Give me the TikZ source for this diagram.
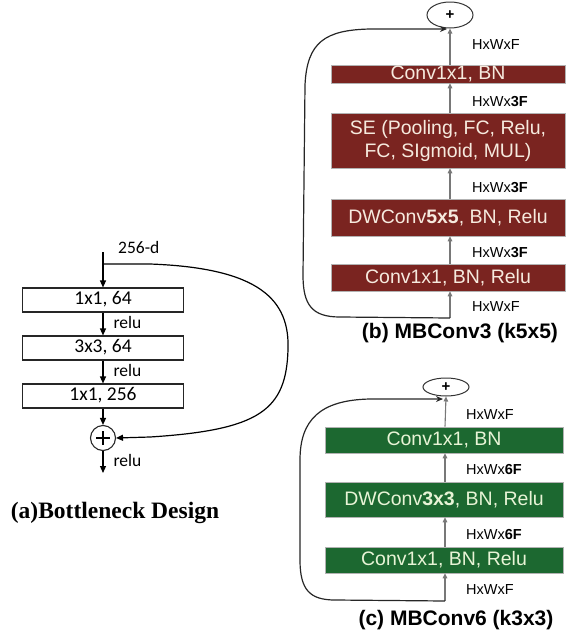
\documentclass[tikz,border=0pt]{standalone}
\usepackage{fontspec}
\setmainfont{Liberation Sans}
\newfontfamily\carl{Carlito}
\newfontfamily\tms{Liberation Serif}
\usetikzlibrary{arrows.meta,shapes.geometric,calc}
\definecolor{dred}{RGB}{122,36,32}
\definecolor{dgreen}{RGB}{28,104,48}
\definecolor{tred}{RGB}{246,234,222}
\definecolor{tgreen}{RGB}{232,244,214}
\definecolor{agray}{RGB}{120,120,120}
\tikzset{
  abox/.style={draw=black!85,line width=1.1pt,minimum width=161pt,inner sep=0pt,font=\carl\fontsize{19.5}{20}\selectfont},
  alab/.style={anchor=west,inner sep=0pt,font=\carl\fontsize{17.5}{20}\selectfont},
  aarrow/.style={line width=1.2pt,-{Triangle[length=7pt,width=6pt]}},
  rbox/.style={fill=dred,draw=black!30,line width=0.6pt,minimum width=234pt,inner sep=0pt,text=tred,align=center,font=\fontsize{19.5}{23}\selectfont},
  gbox/.style={fill=dgreen,draw=black!30,line width=0.6pt,minimum width=238pt,inner sep=0pt,text=tgreen,align=center,font=\fontsize{19.5}{23}\selectfont},
  dimlab/.style={anchor=west,inner sep=0pt,font=\fontsize{14.5}{16}\selectfont},
  garrow/.style={agray,line width=1.1pt,-{Triangle[length=5pt,width=4.5pt]}},
  skiparrow/.style={black!85,line width=1.2pt,-{Stealth[length=7pt,width=6pt]}},
  plusell/.style={ellipse,draw=black!80,line width=1pt,inner sep=0pt,font=\fontsize{15}{15}\selectfont\bfseries},
  captxt/.style={inner sep=0pt,font=\fontsize{21}{24}\selectfont\bfseries},
}
\begin{document}
\begin{tikzpicture}[x=1pt,y=-1pt]
\useasboundingbox (0,0) rectangle (568,635);
% ---------- (a) ----------
\coordinate (a0) at (103,252);
\coordinate (askip) at (103,264);
\node[abox,minimum height=24pt,text height=13pt,text depth=4pt] (a1) at (103,300) {1x1, 64};
\node[abox,minimum height=24pt,text height=13pt,text depth=4pt] (a2) at (103,348) {3x3, 64};
\node[abox,minimum height=24pt,text height=13pt,text depth=4pt] (a3) at (103,396) {1x1, 256};
\node[circle,draw=black!85,line width=1.1pt,minimum size=25pt,inner sep=0pt] (ap) at (103,438) {};
\draw[line width=1.1pt] ($(ap.center)+(-7,0)$) -- ($(ap.center)+(7,0)$) ($(ap.center)+(0,-7)$) -- ($(ap.center)+(0,7)$);
\coordinate (aout) at (103,473);
\node[anchor=west,inner sep=0pt,font=\carl\fontsize{17.5}{20}\selectfont] (a256) at (118,247) {256-d};
\draw[aarrow] (a0) -- (a1);
\draw[aarrow] (a1) -- (a2) node[alab,pos=0.45,xshift=10pt] (r1) {relu};
\draw[aarrow] (a2) -- (a3) node[alab,pos=0.45,xshift=10pt] (r2) {relu};
\draw[aarrow] (a3) -- (ap);
\draw[aarrow] (ap) -- (aout) node[alab,pos=0.45,xshift=10pt] (r3) {relu};
\draw[aarrow] (askip) -- (150,264) .. controls (260,268) and (290,300) .. (288,350)
  .. controls (286,410) and (260,430) .. (150,437) -- (ap.east);
\node[inner sep=0pt,font=\tms\fontsize{23.5}{26}\selectfont\bfseries] (acap) at (115,513) {(a)Bottleneck Design};
% ---------- (b) ----------
\node[plusell,minimum width=46pt,minimum height=26pt] (pb) at (450,15) {+};
\node[rbox,minimum height=18pt,text height=13.5pt,text depth=3pt] (b4) at (448,74) {Conv1x1, BN};
\node[rbox,minimum height=55pt] (b3) at (448,140.5) {SE (Pooling, FC, Relu,\\FC, SIgmoid, MUL)};
\node[rbox,minimum height=37pt] (b2) at (448,217.5) {DWConv\textbf{5x5}, BN, Relu};
\node[rbox,minimum height=27pt] (b1) at (448,277.5) {Conv1x1, BN, Relu};
\coordinate (bin) at (450,318);
\coordinate (bpin) at (447,29);
\draw[garrow] (bin) -- (b1.south -| bin);
\draw[garrow] (b1.north -| bin) -- (b2.south -| bin);
\draw[garrow] (b2.north -| bin) -- (b3.south -| bin);
\draw[garrow] (b3.north -| bin) -- (b4.south -| bin);
\draw[garrow] (b4.north -| bin) -- (pb.south);
\node[dimlab] (lb5) at (472,45) {HxWxF};
\node[dimlab] (lb4) at (472,102) {HxWx\textbf{3F}};
\node[dimlab] (lb3) at (472,188) {HxWx\textbf{3F}};
\node[dimlab] (lb2) at (472,253) {HxWx\textbf{3F}};
\node[dimlab] (lb1) at (472,307) {HxWxF};
\draw[skiparrow] (bin) -- (340,317) .. controls (312,317) and (303,305) .. (303,275)
  -- (305,85) .. controls (307,42) and (325,30) .. (370,29) -- (bpin);
\node[captxt] (bcap) at (460,333) {(b) MBConv3 (k5x5)};
% ---------- (c) ----------
\node[plusell,minimum width=46pt,minimum height=18pt] (pc) at (446,387) {+};
\node[gbox,minimum height=26pt] (c3) at (444,440) {Conv1x1, BN};
\node[gbox,minimum height=35pt] (c2) at (444,499.5) {DWConv\textbf{3x3}, BN, Relu};
\node[gbox,minimum height=26pt] (c1) at (444,560) {Conv1x1, BN, Relu};
\coordinate (cin) at (445,601);
\coordinate (cpin) at (443,399);
\draw[garrow] (cin) -- (c1.south -| cin);
\draw[garrow] (c1.north -| cin) -- (c2.south -| cin);
\draw[garrow] (c2.north -| cin) -- (c3.south -| cin);
\draw[garrow] (c3.north -| cin) -- (pc.south);
\node[dimlab] (lc4) at (466,415) {HxWxF};
\node[dimlab] (lc3) at (466,470) {HxWx\textbf{6F}};
\node[dimlab] (lc2) at (466,535) {HxWx\textbf{6F}};
\node[dimlab] (lc1) at (466,590) {HxWxF};
\draw[skiparrow] (cin) -- (335,600) .. controls (310,600) and (300,590) .. (300,560)
  -- (300,460) .. controls (300,420) and (320,400) .. (370,399) -- (cpin);
\node[captxt] (ccap) at (456,620) {(c) MBConv6 (k3x3)};
\end{tikzpicture}
\end{document}
